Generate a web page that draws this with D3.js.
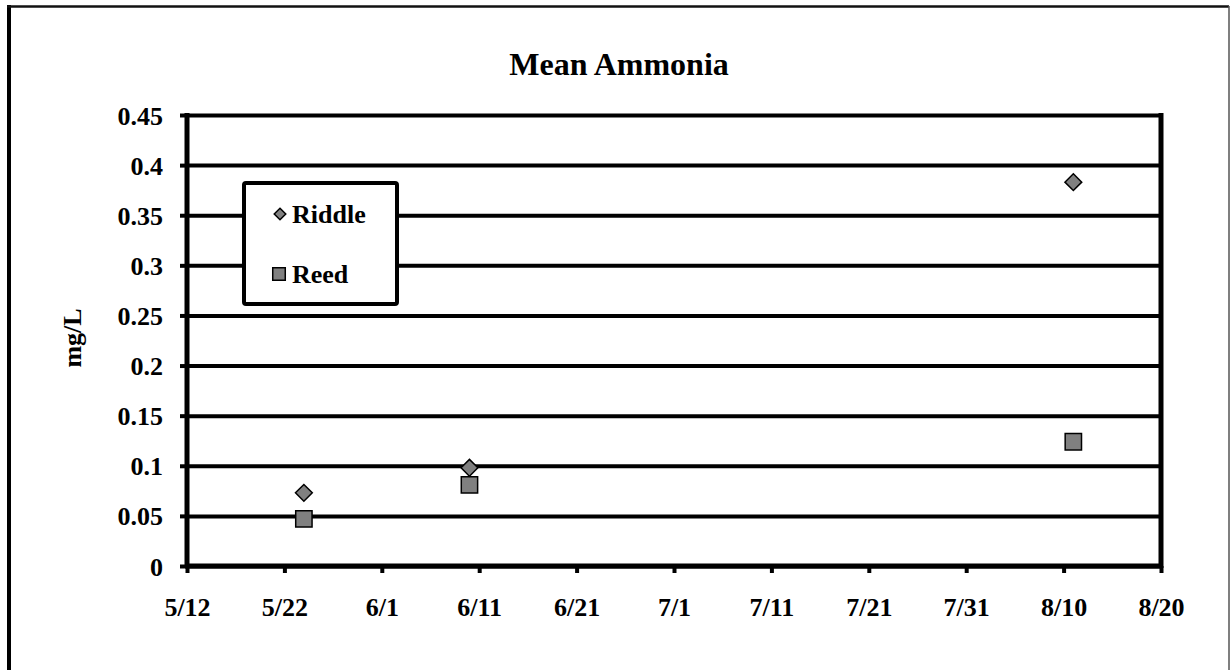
<!DOCTYPE html>
<html>
<head>
<meta charset="utf-8">
<script src="https://cdn.jsdelivr.net/npm/d3@7"></script>
<style>
  body { margin: 0; background: #fff; }
  text { font-family: "Liberation Serif", "Times New Roman", serif; font-weight: bold; fill: #000; }
</style>
</head>
<body>
<script>
// data
const dates = ['5/24/2008', '6/10/2008', '8/11/2008']
const riddle = [0.073, 0.098, 0.383]
const reed = [0.047, 0.081, 0.124]
const xTicks = ['5/12', '5/22', '6/1', '6/11', '6/21', '7/1', '7/11', '7/21', '7/31', '8/10', '8/20']
const yTicks = [0, 0.05, 0.1, 0.15, 0.2, 0.25, 0.3, 0.35, 0.4, 0.45]

const parse = d3.utcParse('%m/%d/%Y')
const tickDate = s => parse(s + '/2008')

const W = 1230, H = 670
const m = { top: 115, right: 69, bottom: 104, left: 187 }
const width = W - m.left - m.right
const height = H - m.top - m.bottom

const svg = d3.select('body').append('svg')
  .attr('width', W)
  .attr('height', H)

// outer chart border
svg.append('line').attr('x1', 9).attr('y1', 5).attr('x2', 9).attr('y2', H + 5)
  .attr('stroke', '#000').attr('stroke-width', 4)
svg.append('line').attr('x1', 7).attr('y1', 6.5).attr('x2', 1229).attr('y2', 6.5)
  .attr('stroke', '#111').attr('stroke-width', 2.5)
svg.append('line').attr('x1', 1229).attr('y1', 6).attr('x2', 1229).attr('y2', H + 5)
  .attr('stroke', '#555').attr('stroke-width', 1.5)

svg.append('text')
  .attr('x', 619)
  .attr('y', 75)
  .attr('text-anchor', 'middle')
  .style('font-size', '32px')
  .text('Mean Ammonia')

const x = d3.scaleUtc()
  .domain([tickDate(xTicks[0]), tickDate(xTicks[xTicks.length - 1])])
  .range([0, width])

const y = d3.scaleLinear()
  .domain([0, 0.45])
  .range([height, 0])

const g = svg.append('g')
  .attr('transform', 'translate(' + m.left + ',' + m.top + ')')

// horizontal gridlines
g.append('g')
  .call(d3.axisLeft(y).tickValues(yTicks).tickSize(-width).tickFormat(''))
  .call(a => a.select('.domain').remove())
  .selectAll('line')
  .attr('stroke', '#000')
  .attr('stroke-width', 4)

// right border of plot area
g.append('line')
  .attr('x1', width).attr('x2', width)
  .attr('y1', -2).attr('y2', height + 2)
  .attr('stroke', '#000').attr('stroke-width', 5)

// y axis
const yAxis = g.append('g')
  .call(d3.axisLeft(y).tickValues(yTicks).tickSize(7).tickPadding(17)
    .tickFormat(d => d3.format('')(+d.toFixed(2))))
yAxis.select('.domain').attr('stroke', '#000').attr('stroke-width', 5)
  .attr('d', 'M0,' + (height + 2) + 'V-2')
yAxis.selectAll('.tick line').attr('stroke', '#000').attr('stroke-width', 4)
yAxis.selectAll('text').style('font-size', '26px').attr('dy', '0.35em')

// x axis
const xAxis = g.append('g')
  .attr('transform', 'translate(0,' + height + ')')
  .call(d3.axisBottom(x).tickValues(xTicks.map(tickDate)).tickSize(7).tickPadding(0)
    .tickFormat((d, i) => xTicks[i]))
xAxis.select('.domain').attr('stroke', '#000').attr('stroke-width', 5)
  .attr('d', 'M-2,0H' + (width + 2))
xAxis.selectAll('.tick line').attr('stroke', '#000').attr('stroke-width', 4)
xAxis.selectAll('text').style('font-size', '26px').attr('dy', null).attr('y', 50)

// markers
const diamond = d3.symbol().type(d3.symbolDiamond2).size(180)
const square = d3.symbol().type(d3.symbolSquare2).size(340)

g.selectAll('.reed')
  .data(dates)
  .enter()
  .append('path')
  .attr('class', 'reed')
  .attr('d', square)
  .attr('transform', (d, i) => 'translate(' + x(parse(d)) + ',' + y(reed[i]) + ')')
  .attr('fill', '#808080')
  .attr('stroke', '#000')
  .attr('stroke-width', 1.5)

g.selectAll('.riddle')
  .data(dates)
  .enter()
  .append('path')
  .attr('class', 'riddle')
  .attr('d', diamond)
  .attr('transform', (d, i) => 'translate(' + x(parse(d)) + ',' + y(riddle[i]) + ')')
  .attr('fill', '#808080')
  .attr('stroke', '#000')
  .attr('stroke-width', 1.5)

// legend
const lg = svg.append('g')
lg.append('rect')
  .attr('x', 244).attr('y', 183)
  .attr('width', 153).attr('height', 121)
  .attr('rx', 2)
  .attr('fill', '#fff')
  .attr('stroke', '#000')
  .attr('stroke-width', 4)
lg.append('path')
  .attr('d', d3.symbol().type(d3.symbolDiamond2).size(85))
  .attr('transform', 'translate(280,214)')
  .attr('fill', '#808080').attr('stroke', '#000').attr('stroke-width', 1.5)
lg.append('text').attr('x', 292).attr('y', 223).style('font-size', '26px').text('Riddle')
lg.append('path')
  .attr('d', d3.symbol().type(d3.symbolSquare2).size(200))
  .attr('transform', 'translate(279,274)')
  .attr('fill', '#808080').attr('stroke', '#000').attr('stroke-width', 1.5)
lg.append('text').attr('x', 292).attr('y', 283).style('font-size', '26px').text('Reed')

// y axis title
svg.append('text')
  .attr('transform', 'translate(81,338) rotate(-90)')
  .attr('text-anchor', 'middle')
  .style('font-size', '26px')
  .text('mg/L')
</script>
</body>
</html>
